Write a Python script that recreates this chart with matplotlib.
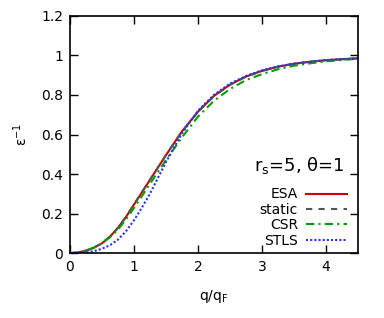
import numpy as np
import matplotlib
matplotlib.use("Agg")
import matplotlib.pyplot as plt

q = [0.0, 0.125, 0.25, 0.375, 0.5, 0.625, 0.75, 0.875, 1.0, 1.125, 1.25, 1.5,
     1.75, 2.0, 2.25, 2.5, 2.75, 3.0, 3.25, 3.5, 3.75, 4.0, 4.25, 4.5]
esa = [0.0, 0.003, 0.012, 0.027, 0.049, 0.083, 0.127, 0.182, 0.245, 0.307,
       0.37, 0.495, 0.615, 0.715, 0.795, 0.852, 0.893, 0.922, 0.943, 0.958,
       0.968, 0.976, 0.981, 0.985]
static = [0.0, 0.003, 0.013, 0.028, 0.050, 0.084, 0.128, 0.183, 0.246, 0.308,
          0.371, 0.496, 0.615, 0.714, 0.794, 0.851, 0.892, 0.921, 0.943,
          0.958, 0.968, 0.976, 0.981, 0.985]
csr = [0.0, 0.003, 0.013, 0.028, 0.049, 0.08, 0.118, 0.17, 0.228, 0.288,
       0.35, 0.47, 0.585, 0.69, 0.77, 0.83, 0.875, 0.905, 0.93, 0.948,
       0.96, 0.97, 0.977, 0.983]
stls = [0.0, 0.0005, 0.003, 0.01, 0.022, 0.04, 0.068, 0.11, 0.165, 0.23,
        0.30, 0.46, 0.605, 0.72, 0.80, 0.857, 0.896, 0.924, 0.944, 0.958,
        0.968, 0.976, 0.981, 0.985]

plt.rcParams['font.family'] = ['DejaVu Sans']
fig = plt.figure(figsize=(3.84, 3.18), dpi=100)
ax = fig.add_axes([0.182, 0.204, 0.750, 0.746])

ax.plot(q, esa, color='#cc0000', lw=1.5, ls='-', label='ESA')
ax.plot(q, static, color='#555555', lw=1.5, ls=(0, (3, 3)), label='static')
ax.plot(q, csr, color='#00a000', lw=1.5, ls=(0, (4, 2, 1, 2)), label='CSR')
ax.plot(q, stls, color='#2233ff', lw=1.5, ls=(0, (1, 1)), label='STLS')

ax.set_xlim(0, 4.5)
ax.set_ylim(0, 1.2)
ax.set_xticks([0, 1, 2, 3, 4])
ax.set_yticks([0, 0.2, 0.4, 0.6, 0.8, 1.0, 1.2])
ax.set_yticklabels(['0', '0.2', '0.4', '0.6', '0.8', '1', '1.2'])
ax.tick_params(direction='in', length=6, width=1, top=True, right=True,
               labelsize=10, pad=5)
for s in ax.spines.values():
    s.set_linewidth(1.2)

ax.set_xlabel(r'q/q$_\mathrm{F}$', fontsize=10, labelpad=10)
ax.set_ylabel(r'ε$^{\mathrm{-1}}$', fontsize=10, labelpad=8)

ax.text(0.955, 0.37, r'r$_\mathrm{s}$=5, θ=1', transform=ax.transAxes,
        ha='right', va='center', fontsize=13)

ax.legend(loc='lower right', markerfirst=False, frameon=False, fontsize=10,
          handlelength=2.9, handletextpad=0.6, labelspacing=0.1,
          borderaxespad=0.0, bbox_to_anchor=(0.98, 0.0))

fig.savefig('out.png', dpi=100)
